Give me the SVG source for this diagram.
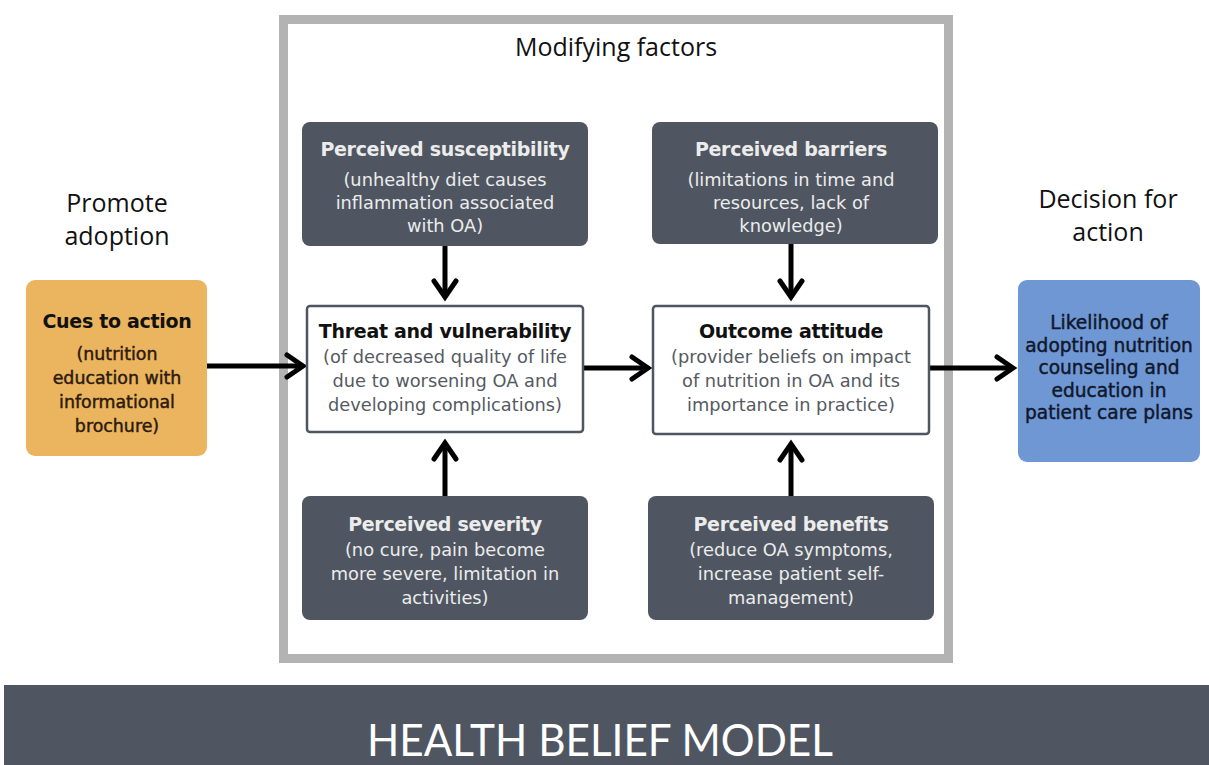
<svg xmlns="http://www.w3.org/2000/svg" width="1209" height="765" viewBox="0 0 1209 765">
<defs>
<marker id="ah" viewBox="-22 -16 28 32" refX="0" refY="0" markerWidth="28" markerHeight="32" markerUnits="userSpaceOnUse" orient="auto">
<path d="M-16,-11 L0,0 L-16,11" fill="none" stroke="#000" stroke-width="5" stroke-linecap="round" stroke-linejoin="miter"/>
</marker>
<style>
.dark{fill:#4f5661}
.white{fill:#fff;stroke:#4f5661;stroke-width:2.5}
.t{font-family:"DejaVu Sans",Verdana,sans-serif;font-weight:bold;font-size:19px;text-anchor:middle;letter-spacing:-0.3px}
.b{font-family:"DejaVu Sans",Verdana,sans-serif;font-size:17.8px;text-anchor:middle}
.m{font-family:"DejaVu Sans",Verdana,sans-serif;text-anchor:middle;stroke-width:0.45px}
.cu{font-size:17.4px;fill:#2b1a0e;stroke:#2b1a0e}
.lk{font-size:18.6px;fill:#10182c;stroke:#10182c}
.lt{fill:#ececec}
.gt{fill:#555a62}
.hd{font-family:"Open Sans","Liberation Sans",sans-serif;font-size:25px;text-anchor:middle;fill:#111}
.c{stroke:#000;stroke-width:5;fill:none;marker-end:url(#ah)}
</style>
</defs>
<rect width="1209" height="765" fill="#fff"/>
<rect id="frame" x="283.5" y="19.5" width="665" height="639" fill="#fff" stroke="#b3b3b3" stroke-width="9"/>
<text class="hd" x="616" y="56">Modifying factors</text>
<text class="hd" x="117" y="212">Promote</text>
<text class="hd" x="117" y="245">adoption</text>
<text class="hd" x="1108" y="208">Decision for</text>
<text class="hd" x="1108" y="241">action</text>

<g id="connectors">
<line class="c" x1="206" y1="366" x2="303" y2="366"/>
<line class="c" x1="584" y1="368" x2="648" y2="368"/>
<line class="c" x1="930" y1="368" x2="1013" y2="368"/>
<line class="c" x1="445" y1="246" x2="445" y2="297"/>
<line class="c" x1="791" y1="244" x2="791" y2="297"/>
<line class="c" x1="445" y1="496" x2="445" y2="443"/>
<line class="c" x1="791" y1="496" x2="791" y2="444"/>
</g>

<g id="cues">
<rect x="26" y="280" width="181" height="176" rx="9" fill="#ebb45e"/>
<text class="t" x="117" y="328" fill="#111">Cues to action</text>
<text class="m cu" x="117" y="360">(nutrition</text>
<text class="m cu" x="117" y="384">education with</text>
<text class="m cu" x="117" y="408">informational</text>
<text class="m cu" x="117" y="432">brochure)</text>
</g>

<g id="susceptibility">
<rect class="dark" x="302" y="122" width="286" height="124" rx="8"/>
<text class="t lt" x="445" y="156">Perceived susceptibility</text>
<text class="b lt" x="445" y="186">(unhealthy diet causes</text>
<text class="b lt" x="445" y="209">inflammation associated</text>
<text class="b lt" x="445" y="232">with OA)</text>
</g>

<g id="barriers">
<rect class="dark" x="652" y="122" width="286" height="122" rx="8"/>
<text class="t lt" x="791" y="156">Perceived barriers</text>
<text class="b lt" x="791" y="186">(limitations in time and</text>
<text class="b lt" x="791" y="209">resources, lack of</text>
<text class="b lt" x="791" y="232">knowledge)</text>
</g>

<g id="threat">
<rect class="white" x="307" y="306" width="276" height="126" rx="3"/>
<text class="t" x="445" y="338" fill="#111">Threat and vulnerability</text>
<text class="b gt" x="445" y="363">(of decreased quality of life</text>
<text class="b gt" x="445" y="387">due to worsening OA and</text>
<text class="b gt" x="445" y="411">developing complications)</text>
</g>

<g id="outcome">
<rect class="white" x="653" y="306" width="276" height="128" rx="3"/>
<text class="t" x="791" y="338" fill="#111">Outcome attitude</text>
<text class="b gt" x="791" y="363">(provider beliefs on impact</text>
<text class="b gt" x="791" y="387">of nutrition in OA and its</text>
<text class="b gt" x="791" y="411">importance in practice)</text>
</g>

<g id="severity">
<rect class="dark" x="302" y="496" width="286" height="124" rx="8"/>
<text class="t lt" x="445" y="531">Perceived severity</text>
<text class="b lt" x="445" y="556">(no cure, pain become</text>
<text class="b lt" x="445" y="580">more severe, limitation in</text>
<text class="b lt" x="445" y="604">activities)</text>
</g>

<g id="benefits">
<rect class="dark" x="648" y="496" width="286" height="124" rx="8"/>
<text class="t lt" x="791" y="531">Perceived benefits</text>
<text class="b lt" x="791" y="556">(reduce OA symptoms,</text>
<text class="b lt" x="791" y="580">increase patient self-</text>
<text class="b lt" x="791" y="604">management)</text>
</g>

<g id="likelihood">
<rect x="1018" y="280" width="182" height="182" rx="9" fill="#6f97d4"/>
<text class="m lk" x="1109" y="329">Likelihood of</text>
<text class="m lk" x="1109" y="352">adopting nutrition</text>
<text class="m lk" x="1109" y="374">counseling and</text>
<text class="m lk" x="1109" y="397">education in</text>
<text class="m lk" x="1109" y="419">patient care plans</text>
</g>

<g id="banner">
<rect x="4" y="685" width="1205" height="80" fill="#4f5661"/>
<text x="600" y="756" font-family="Lato, Open Sans, sans-serif" font-size="44" fill="#fff" text-anchor="middle" textLength="466" lengthAdjust="spacingAndGlyphs">HEALTH BELIEF MODEL</text>
</g>
</svg>
